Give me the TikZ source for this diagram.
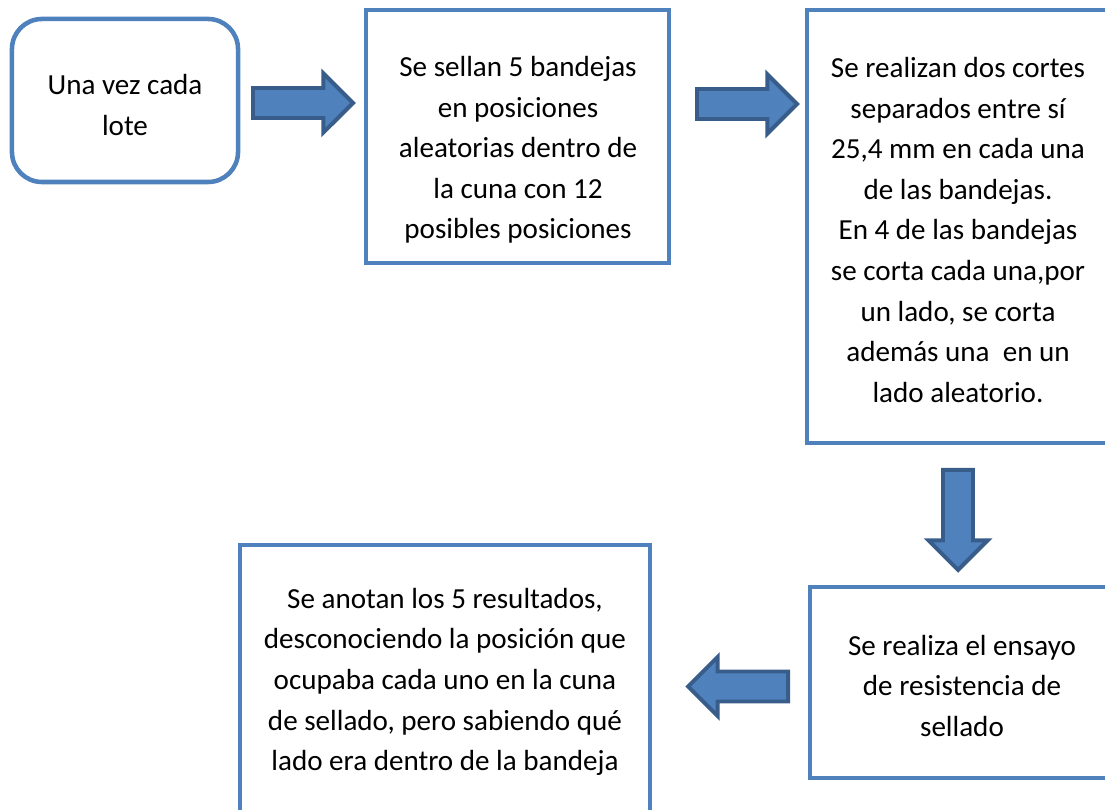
\documentclass[tikz,border=0pt]{standalone}
\usepackage{fontspec}
\setmainfont{Carlito}
\usetikzlibrary{shapes.arrows}
\definecolor{boxblue}{RGB}{79,129,189}
\definecolor{arrowedge}{RGB}{56,93,138}

\begin{document}
\begin{tikzpicture}[x=0.33pt,y=-0.33pt,
 box/.style={rectangle,draw=boxblue,line width=1.5pt,inner sep=0pt},
 txt/.style={align=center,inner sep=0pt,font=\fontsize{9.6}{13.4}\selectfont},
 blockarrow/.style={single arrow,draw=arrowedge,fill=boxblue,line width=1.3pt,
   inner xsep=0pt,inner ysep=4.3pt,single arrow head extend=4.8pt,
   single arrow head indent=0pt,minimum height=33pt,anchor=tail}]
\useasboundingbox (0,0) rectangle (1105,810);
\clip (0,0) rectangle (1105,810);
\node [box,rounded corners=9.9pt,minimum width=74.6pt,minimum height=53.8pt] (lote) at (125,100.5) {};
\node [box,minimum width=100pt,minimum height=83.5pt] (sellan) at (517.5,136.5) {};
\node [box,minimum width=100pt,minimum height=142.9pt] (cortes) at (958.5,226.5) {};
\node [box,minimum width=100pt,minimum height=63pt] (ensayo) at (961.5,682.5) {};
\node [box,minimum width=135.3pt,minimum height=90.8pt] (anotan) at (445,682.5) {};
\node [txt] (lotetxt) at (125,105) {Una vez cada\\lote};
\node [txt] (sellantxt) at (518,150) {Se sellan 5 bandejas\\en posiciones\\aleatorias dentro de\\la cuna con 12\\posibles posiciones};
\node [txt] (cortestxt) at (958,230) {Se realizan dos cortes\\separados entre sí\\25,4 mm en cada una\\de las bandejas.\\En 4 de las bandejas\\se corta cada una,por\\un lado, se corta\\además una\ \ en un\\lado aleatorio.};
\node [txt] (ensayotxt) at (962,686) {Se realiza el ensayo\\de resistencia de\\sellado};
\node [txt] (anotantxt) at (445,682) {Se anotan los 5 resultados,\\desconociendo la posición que\\ocupaba cada uno en la cuna\\de sellado, pero sabiendo qué\\lado era dentro de la bandeja};
\node [blockarrow] (flecha1) at (251,103) {};
\node [blockarrow] (flecha2) at (695,104) {};
\node [blockarrow,rotate=-90] (flecha3) at (958,468) {};
\node [blockarrow,rotate=180] (flecha4) at (790,686.5) {};
\end{tikzpicture}
\end{document}
